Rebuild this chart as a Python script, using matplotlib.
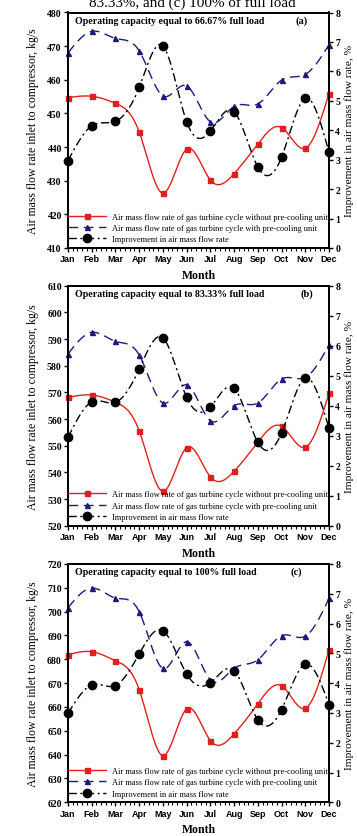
import numpy as np
import matplotlib
matplotlib.use('Agg')
import matplotlib.pyplot as plt
from matplotlib.lines import Line2D
from matplotlib.ticker import MultipleLocator, AutoMinorLocator

months = ['Jan', 'Feb', 'Mar', 'Apr', 'May', 'Jun', 'Jul', 'Aug', 'Sep', 'Oct', 'Nov', 'Dec']

# Panel (a): 66.67% full load
without_a = [454.7, 455.1, 453.0, 444.5, 426.3, 439.4, 430.2, 432.1, 440.9, 445.8, 439.6, 455.9]
with_a = [468.0, 474.4, 472.3, 468.6, 455.2, 458.2, 447.5, 452.1, 452.8, 459.9, 461.6, 470.4]
impr_a = [2.97, 4.15, 4.30, 5.46, 6.87, 4.29, 3.97, 4.63, 2.75, 3.08, 5.09, 3.25]

# Panel (b): 83.33% full load
without_b = [568.1, 569.0, 566.3, 555.6, 532.9, 549.3, 538.3, 540.4, 551.3, 557.3, 549.4, 569.6]
with_b = [584.4, 592.5, 589.1, 584.0, 566.0, 572.8, 559.4, 565.0, 566.0, 575.0, 575.6, 587.8]
impr_b = [2.95, 4.13, 4.11, 5.22, 6.26, 4.28, 3.96, 4.58, 2.78, 3.09, 4.92, 3.25]

# Panel (c): 100% full load
without_c = [681.9, 683.2, 679.4, 667.3, 639.6, 659.2, 645.9, 648.7, 661.3, 668.9, 659.4, 684.0]
with_c = [701.7, 709.9, 705.7, 700.0, 676.2, 687.4, 671.4, 676.2, 679.8, 689.9, 689.7, 705.6]
impr_c = [2.99, 3.94, 3.92, 4.98, 5.76, 4.31, 4.01, 4.42, 2.77, 3.11, 4.64, 3.28]

panel_titles = ['Operating capacity equal to 66.67% full load',
                'Operating capacity equal to 83.33% full load',
                'Operating capacity equal to 100% full load']
panel_tags = ['(a)', '(b)', '(c)']
left_ranges = [(410, 480), (520, 610), (620, 720)]

legend_labels = ['Air mass flow rate of gas turbine cycle without pre-cooling unit',
                 'Air mass flow rate of gas turbine cycle with pre-cooling unit',
                 'Improvement in air mass flow rate']

SERIF = 'Liberation Serif'
SANS = 'Liberation Sans'
RED = '#e02020'
BLUE = '#1c1c7c'


def spline(x, y, n=25):
    x = np.asarray(x, float)
    y = np.asarray(y, float)
    N = len(x)
    h = np.diff(x)
    A = np.zeros((N, N))
    b = np.zeros(N)
    A[0, 0] = 1
    A[-1, -1] = 1
    for i in range(1, N - 1):
        A[i, i - 1] = h[i - 1]
        A[i, i] = 2 * (h[i - 1] + h[i])
        A[i, i + 1] = h[i]
        b[i] = 6 * ((y[i + 1] - y[i]) / h[i] - (y[i] - y[i - 1]) / h[i - 1])
    M = np.linalg.solve(A, b)
    xs, ys = [], []
    for i in range(N - 1):
        t = np.linspace(x[i], x[i + 1], n, endpoint=(i == N - 2))
        hi = h[i]
        s = (M[i] * (x[i + 1] - t) ** 3 / (6 * hi) + M[i + 1] * (t - x[i]) ** 3 / (6 * hi)
             + (y[i] / hi - M[i] * hi / 6) * (x[i + 1] - t)
             + (y[i + 1] / hi - M[i + 1] * hi / 6) * (t - x[i]))
        xs.append(t)
        ys.append(s)
    return np.concatenate(xs), np.concatenate(ys)


fig = plt.figure(figsize=(3.57, 8.37), dpi=100)

fig.text(192.5 / 357, 1 - 7.0 / 837, '83.33%, and (c) 100% of full load',
         ha='center', va='baseline', fontsize=10.9, family=SERIF)

# axes rectangles in pixels: (top, bottom)
rects = [(13.5, 249.0), (286.7, 526.7), (565.0, 803.3)]
L, R = 68.0, 329.0
tag_x = [301.7, 306.7, 296.7]

data = [(without_a, with_a, impr_a), (without_b, with_b, impr_b), (without_c, with_c, impr_c)]
x = np.arange(1, 13)

dash_blue = (0, (7, 4))
dashdot_black = (0, (6, 2.5, 1.5, 2.5))

for k, ((top, bot), (wo, wi, im)) in enumerate(zip(rects, data)):
    ax = fig.add_axes([L / 357, 1 - bot / 837, (R - L) / 357, (bot - top) / 837])
    ax2 = ax.twinx()

    xs, ys = spline(x, wo)
    ax.plot(xs, ys, color=RED, lw=1.0, zorder=3)
    ax.plot(x, wo, ls='none', marker='s', ms=3.6, color=RED, clip_on=False, zorder=4)
    xs, ys = spline(x, wi)
    ax.plot(xs, ys, color=BLUE, lw=1.0, ls=dash_blue, zorder=3)
    ax.plot(x, wi, ls='none', marker='^', ms=3.6, color=BLUE, clip_on=False, zorder=4)
    xs, ys = spline(x, im)
    ax2.plot(xs, ys, color='black', lw=1.0, ls=dashdot_black, zorder=3)
    ax2.plot(x, im, ls='none', marker='o', ms=6, color='black', clip_on=False, zorder=4)

    lo, hi = left_ranges[k]
    ax.set_ylim(lo, hi)
    ax.yaxis.set_major_locator(MultipleLocator(10))
    ax2.set_ylim(0, 8)
    ax2.yaxis.set_major_locator(MultipleLocator(1))
    ax.set_xlim(1, 12)
    ax.set_xticks(x)
    ax.set_xticklabels(months)
    ax.xaxis.set_minor_locator(AutoMinorLocator(5))

    for a in (ax, ax2):
        for sp in a.spines.values():
            sp.set_linewidth(1.3)
    ax.tick_params(axis='x', which='major', direction='out', length=3, width=1, pad=1.5)
    ax.tick_params(axis='x', which='minor', direction='out', length=2, width=0.8)
    ax.tick_params(axis='y', direction='out', length=3, width=1, pad=1.5)
    ax2.tick_params(axis='y', direction='out', length=3, width=1, pad=1.5)

    for lab in ax.get_xticklabels():
        lab.set_fontfamily(SANS)
        lab.set_fontweight('bold')
        lab.set_fontsize(6.5)
    for lab in ax.get_yticklabels():
        lab.set_fontfamily(SERIF)
        lab.set_fontweight('bold')
        lab.set_fontsize(7)
    for lab in ax2.get_yticklabels():
        lab.set_fontfamily(SERIF)
        lab.set_fontweight('bold')
        lab.set_fontsize(7)

    ax.set_ylabel('Air mass flow rate inlet to compressor, kg/s', family=SERIF,
                  fontsize=8.5, labelpad=6)
    ax2.set_ylabel('Improvement in air mass flow rate, %', family=SERIF,
                   fontsize=8.2, labelpad=3)
    ax.set_xlabel('Month', family=SERIF, fontweight='bold', fontsize=8.5, labelpad=4)

    ax2.text(7 / (R - L), 1 - 7.5 / (bot - top), panel_titles[k], transform=ax2.transAxes,
             ha='left', va='center', family=SERIF, fontweight='bold', fontsize=7.1)
    ax2.text((tag_x[k] - L) / (R - L), 1 - 7.5 / (bot - top), panel_tags[k],
             transform=ax2.transAxes, ha='center', va='center', family=SERIF,
             fontweight='bold', fontsize=7.5)

    handles = [Line2D([], [], color=RED, lw=1.0, marker='s', ms=3.6),
               Line2D([], [], color=BLUE, lw=1.0, ls=dash_blue, marker='^', ms=3.6),
               Line2D([], [], color='black', lw=1.0, ls=dashdot_black, marker='o', ms=6)]
    leg = ax2.legend(handles, legend_labels, loc='lower left', bbox_to_anchor=(0, 0.02),
                     frameon=False, borderpad=0, borderaxespad=0, handlelength=4.6,
                     handletextpad=0.7, labelspacing=0.4, numpoints=1,
                     prop={'family': SERIF, 'size': 6.0})

fig.savefig('out.png', dpi=100)
